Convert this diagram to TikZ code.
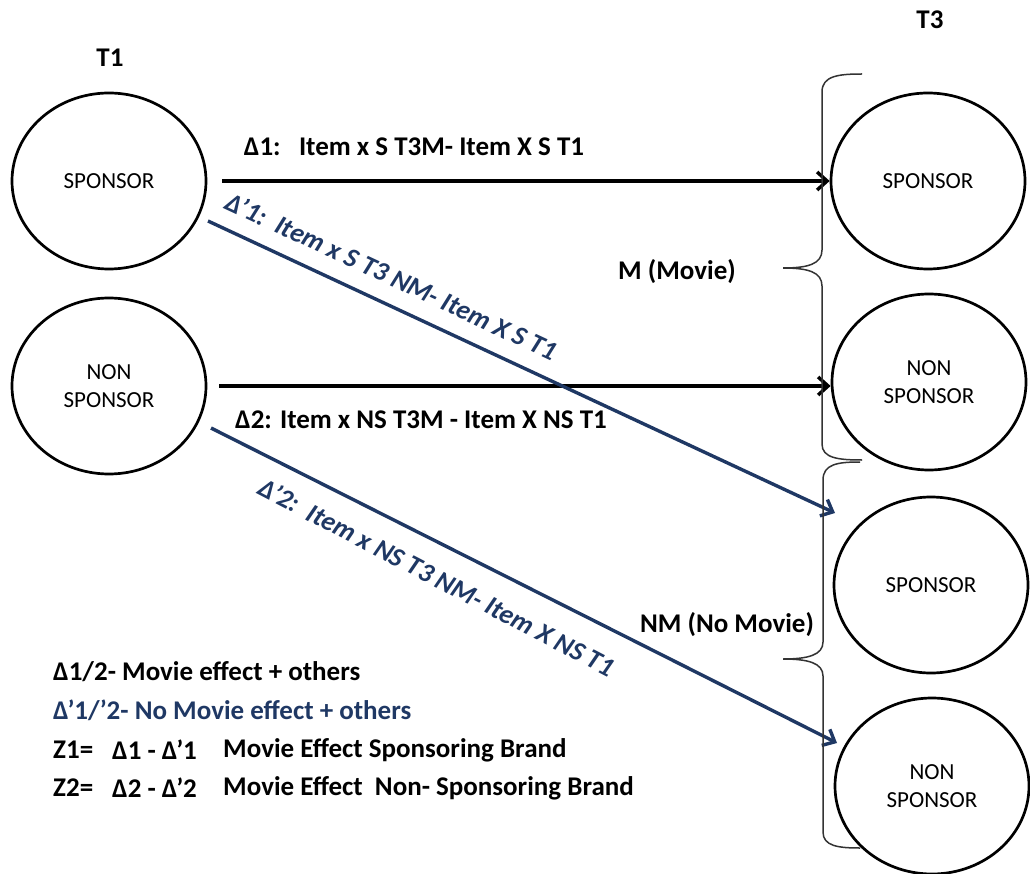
\documentclass[tikz,border=0pt]{standalone}
\usepackage{fontspec}
\setmainfont{Carlito}
\usetikzlibrary{shapes.geometric,arrows.meta,calc}
\definecolor{navy}{RGB}{31,56,100}
\begin{document}
\begin{tikzpicture}[x=1pt,y=-1pt,
  state/.style={ellipse,draw,line width=2.7pt,minimum width=194pt,minimum height=176pt,
    inner sep=0pt,align=center,font=\fontsize{23}{28}\selectfont},
  flow/.style={line width=3.4pt,-{Straight Barb[length=10pt,width=18pt]}},
  lbl/.style={font=\fontsize{27}{32}\selectfont\bfseries,inner sep=0pt},
  slant/.style={font=\fontsize{27}{32}\selectfont\bfseries\itshape,text=navy,inner sep=0pt},
  legend/.style={font=\fontsize{27}{32}\selectfont\bfseries,inner sep=0pt,anchor=west},
  brace/.style={line width=1.5pt,draw=black!80}]
\useasboundingbox (0,0) rectangle (1030,874);

% time points
\node[lbl] (t1) at (110,58) {T1};
\node[lbl] (t3) at (930,20) {T3};

% brand states at T1 and T3
\node[state] (a1) at (109,181) {SPONSOR};
\node[state] (a2) at (109,386) {NON\\SPONSOR};
\node[state] (b1) at (928,181) {SPONSOR};
\node[state] (b2) at (929,382) {NON\\SPONSOR};
\node[state] (b3) at (931,585) {SPONSOR};
\node[state] (b4) at (932,786) {NON\\SPONSOR};

% movie condition
\draw[flow] ([xshift=15pt]a1.east) -- (b1.west);
\draw[flow] ([xshift=12pt]a2.east) -- (a2.east -| b2.west);
\node[lbl] (d1) at (414,147) {Δ1:\ \ \ Item x S T3M- Item X S T1};
\node[lbl] (d2) at (421,420) {Δ2: Item x NS T3M - Item X NS T1};

% no-movie condition
\draw[flow,navy] ($(a1.center)+(99,40)$) -- ($(b3.center)+(-96,-72)$);
\draw[flow,navy] ($(a2.center)+(102,42)$) -- ($(b4.center)+(-95,-43)$);
\node[slant,rotate=-25] (d1p) at (392,276) {Δ’1:\ \ Item x S T3 NM- Item X S T1};
\node[slant,rotate=-27.5] (d2p) at (437,577) {Δ’2:\ \ Item x NS T3 NM- Item X NS T1};

% grouping braces
\draw[brace] (862,74) .. controls (838,74) and (822,76) .. (822,92) -- (822,250)
  .. controls (822,264) and (808,268) .. (783,268)
  .. controls (808,268) and (822,272) .. (822,286) -- (822,444)
  .. controls (822,458) and (838,460) .. (862,460);
\draw[brace] (860,462) .. controls (838,462) and (823,464) .. (823,480) -- (823,642)
  .. controls (823,655) and (808,659) .. (783,659)
  .. controls (808,659) and (823,663) .. (823,676) -- (823,832)
  .. controls (823,846) and (838,848) .. (860,848);
\node[lbl] (m) at (677,272) {M (Movie)};
\node[lbl] (nm) at (727,625) {NM (No Movie)};

% legend
\node[legend] (l1) at (53,672) {Δ1/2- Movie effect + others};
\node[legend,text=navy] (l2) at (53,710) {Δ’1/’2- No Movie effect + others};
\node[legend] (z1) at (53,750) {Z1=};
\node[legend] (z1d) at (112,750) {Δ1 - Δ’1};
\node[legend] (z1t) at (223,750) {Movie Effect Sponsoring Brand};
\node[legend] (z2) at (53,788) {Z2=};
\node[legend] (z2d) at (112,788) {Δ2 - Δ’2};
\node[legend] (z2t) at (223,788) {Movie Effect\ \ Non- Sponsoring Brand};
\end{tikzpicture}
\end{document}
